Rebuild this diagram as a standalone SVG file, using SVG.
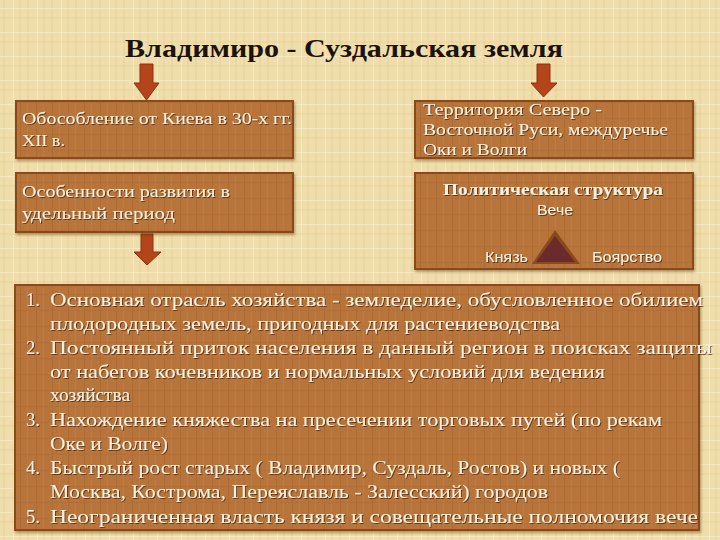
<svg xmlns="http://www.w3.org/2000/svg" width="720" height="540" viewBox="0 0 720 540">
  <defs>
    <pattern id="bg" width="24" height="24" patternUnits="userSpaceOnUse">
      <rect width="24" height="24" fill="#efdeab"/>
      <rect x="3" width="2" height="24" fill="#e6d098" opacity="0.6"/>
      <rect x="13" width="1" height="24" fill="#f7ebc4" opacity="0.8"/>
      <rect x="19" width="2" height="24" fill="#e3cc92" opacity="0.4"/>
      <rect y="8" width="24" height="1" fill="#f8ecc8" opacity="0.7"/>
      <rect y="17" width="24" height="2" fill="#e5cf97" opacity="0.4"/>
    </pattern>
    <pattern id="wood" width="16" height="16" patternUnits="userSpaceOnUse">
      <rect width="16" height="16" fill="#b7743a"/>
      <rect x="4" width="1" height="16" fill="#a9682f" opacity="0.6"/>
      <rect x="11" width="1" height="16" fill="#c0803f" opacity="0.6"/>
      <rect y="6" width="16" height="1" fill="#ab6a31" opacity="0.4"/>
    </pattern>
    <filter id="sh" x="-5%" y="-5%" width="110%" height="115%">
      <feDropShadow dx="1" dy="2" stdDeviation="1.5" flood-color="#5a3010" flood-opacity="0.45"/>
    </filter>
    <filter id="ts" x="-5%" y="-20%" width="110%" height="140%">
      <feDropShadow dx="1" dy="1" stdDeviation="0.6" flood-color="#3a1c08" flood-opacity="0.7"/>
    </filter>
  </defs>
  <style>
    .box { fill: url(#wood); stroke: #8a4a1d; stroke-width: 2; filter: url(#sh); }
    .t { font-family: "Liberation Serif", "DejaVu Serif", serif; fill: #fbf1dc; filter: url(#ts); }
    .s { font-family: "Liberation Sans", "DejaVu Sans", sans-serif; fill: #fbf1dc; filter: url(#ts); }
    .arrow { fill: #b4451b; stroke: #8c3312; stroke-width: 1; }
    .title { font-family: "Liberation Serif", "DejaVu Serif", serif; font-weight: bold; fill: #1e1208; }
  </style>

  <rect width="720" height="540" fill="url(#bg)"/>

  <g id="title">
    <text class="title" x="125" y="57" font-size="25" textLength="438" lengthAdjust="spacingAndGlyphs">Владимиро - Суздальская земля</text>
  </g>

  <g id="connectors">
    <path class="arrow" d="M140,64 L153,64 L153,83 L159,83 L146.5,100 L134,83 L140,83 Z"/>
    <path class="arrow" d="M537,64 L550,64 L550,83 L557,83 L543.5,97 L531,83 L537,83 Z"/>
    <path class="arrow" d="M141,234 L153,234 L153,252 L161,252 L147,265 L134,252 L141,252 Z"/>
  </g>

  <g id="node-kiev">
    <rect class="box" x="16" y="101" width="277" height="57"/>
    <text class="t" font-size="17" x="22" y="124" textLength="270" lengthAdjust="spacingAndGlyphs">Обособление от Киева в 30-х гг.</text>
    <text class="t" font-size="17" x="22" y="146" textLength="43" lengthAdjust="spacingAndGlyphs">XII в.</text>
  </g>

  <g id="node-features">
    <rect class="box" x="16" y="173" width="277" height="59"/>
    <text class="t" font-size="17" x="22" y="197" textLength="208" lengthAdjust="spacingAndGlyphs">Особенности развития в</text>
    <text class="t" font-size="17" x="22" y="219" textLength="153" lengthAdjust="spacingAndGlyphs">удельный период</text>
  </g>

  <g id="node-territory">
    <rect class="box" x="415" y="101" width="278" height="57"/>
    <text class="t" font-size="17" x="423" y="115" textLength="179" lengthAdjust="spacingAndGlyphs">Территория Северо -</text>
    <text class="t" font-size="17" x="423" y="135" textLength="245" lengthAdjust="spacingAndGlyphs">Восточной Руси, междуречье</text>
    <text class="t" font-size="17" x="423" y="155" textLength="104" lengthAdjust="spacingAndGlyphs">Оки и Волги</text>
  </g>

  <g id="node-political">
    <rect class="box" x="415" y="173" width="278" height="96"/>
    <text class="t" font-size="17" font-weight="bold" x="443" y="195" textLength="220" lengthAdjust="spacingAndGlyphs">Политическая структура</text>
    <text class="s" font-size="14" x="537" y="215" textLength="36" lengthAdjust="spacingAndGlyphs">Вече</text>
    <path d="M555,230 L580,264 L532,264 Z" fill="#8a4a1d"/>
    <path d="M555,236 L575,262 L536,262 Z" fill="#6b2a2c"/>
    <text class="s" font-size="14" x="485" y="262" textLength="43" lengthAdjust="spacingAndGlyphs">Князь</text>
    <text class="s" font-size="14" x="592" y="262" textLength="70" lengthAdjust="spacingAndGlyphs">Боярство</text>
  </g>

  <g id="node-list">
    <rect class="box" x="15" y="285" width="684" height="245"/>
    <g class="t" font-size="18.5">
      <text x="26" y="306">1.</text>
      <text x="50" y="306" textLength="653" lengthAdjust="spacingAndGlyphs">Основная отрасль хозяйства - земледелие, обусловленное обилием</text>
      <text x="50" y="330" textLength="510" lengthAdjust="spacingAndGlyphs">плодородных земель, пригодных для растениеводства</text>
      <text x="26" y="354">2.</text>
      <text x="50" y="354" textLength="662" lengthAdjust="spacingAndGlyphs">Постоянный приток населения в данный регион в поисках защиты</text>
      <text x="50" y="378" textLength="555" lengthAdjust="spacingAndGlyphs">от набегов кочевников и нормальных условий для ведения</text>
      <text x="50" y="401" textLength="80" lengthAdjust="spacingAndGlyphs">хозяйства</text>
      <text x="26" y="426">3.</text>
      <text x="50" y="426" textLength="612" lengthAdjust="spacingAndGlyphs">Нахождение княжества на пресечении торговых путей (по рекам</text>
      <text x="50" y="450" textLength="118" lengthAdjust="spacingAndGlyphs">Оке и Волге)</text>
      <text x="26" y="474">4.</text>
      <text x="50" y="474" textLength="570" lengthAdjust="spacingAndGlyphs">Быстрый рост старых ( Владимир, Суздаль, Ростов) и новых (</text>
      <text x="50" y="498" textLength="498" lengthAdjust="spacingAndGlyphs">Москва, Кострома, Переяславль - Залесский) городов</text>
      <text x="26" y="523">5.</text>
      <text x="50" y="523" textLength="648" lengthAdjust="spacingAndGlyphs">Неограниченная власть князя и совещательные полномочия  вече</text>
    </g>
  </g>
</svg>
